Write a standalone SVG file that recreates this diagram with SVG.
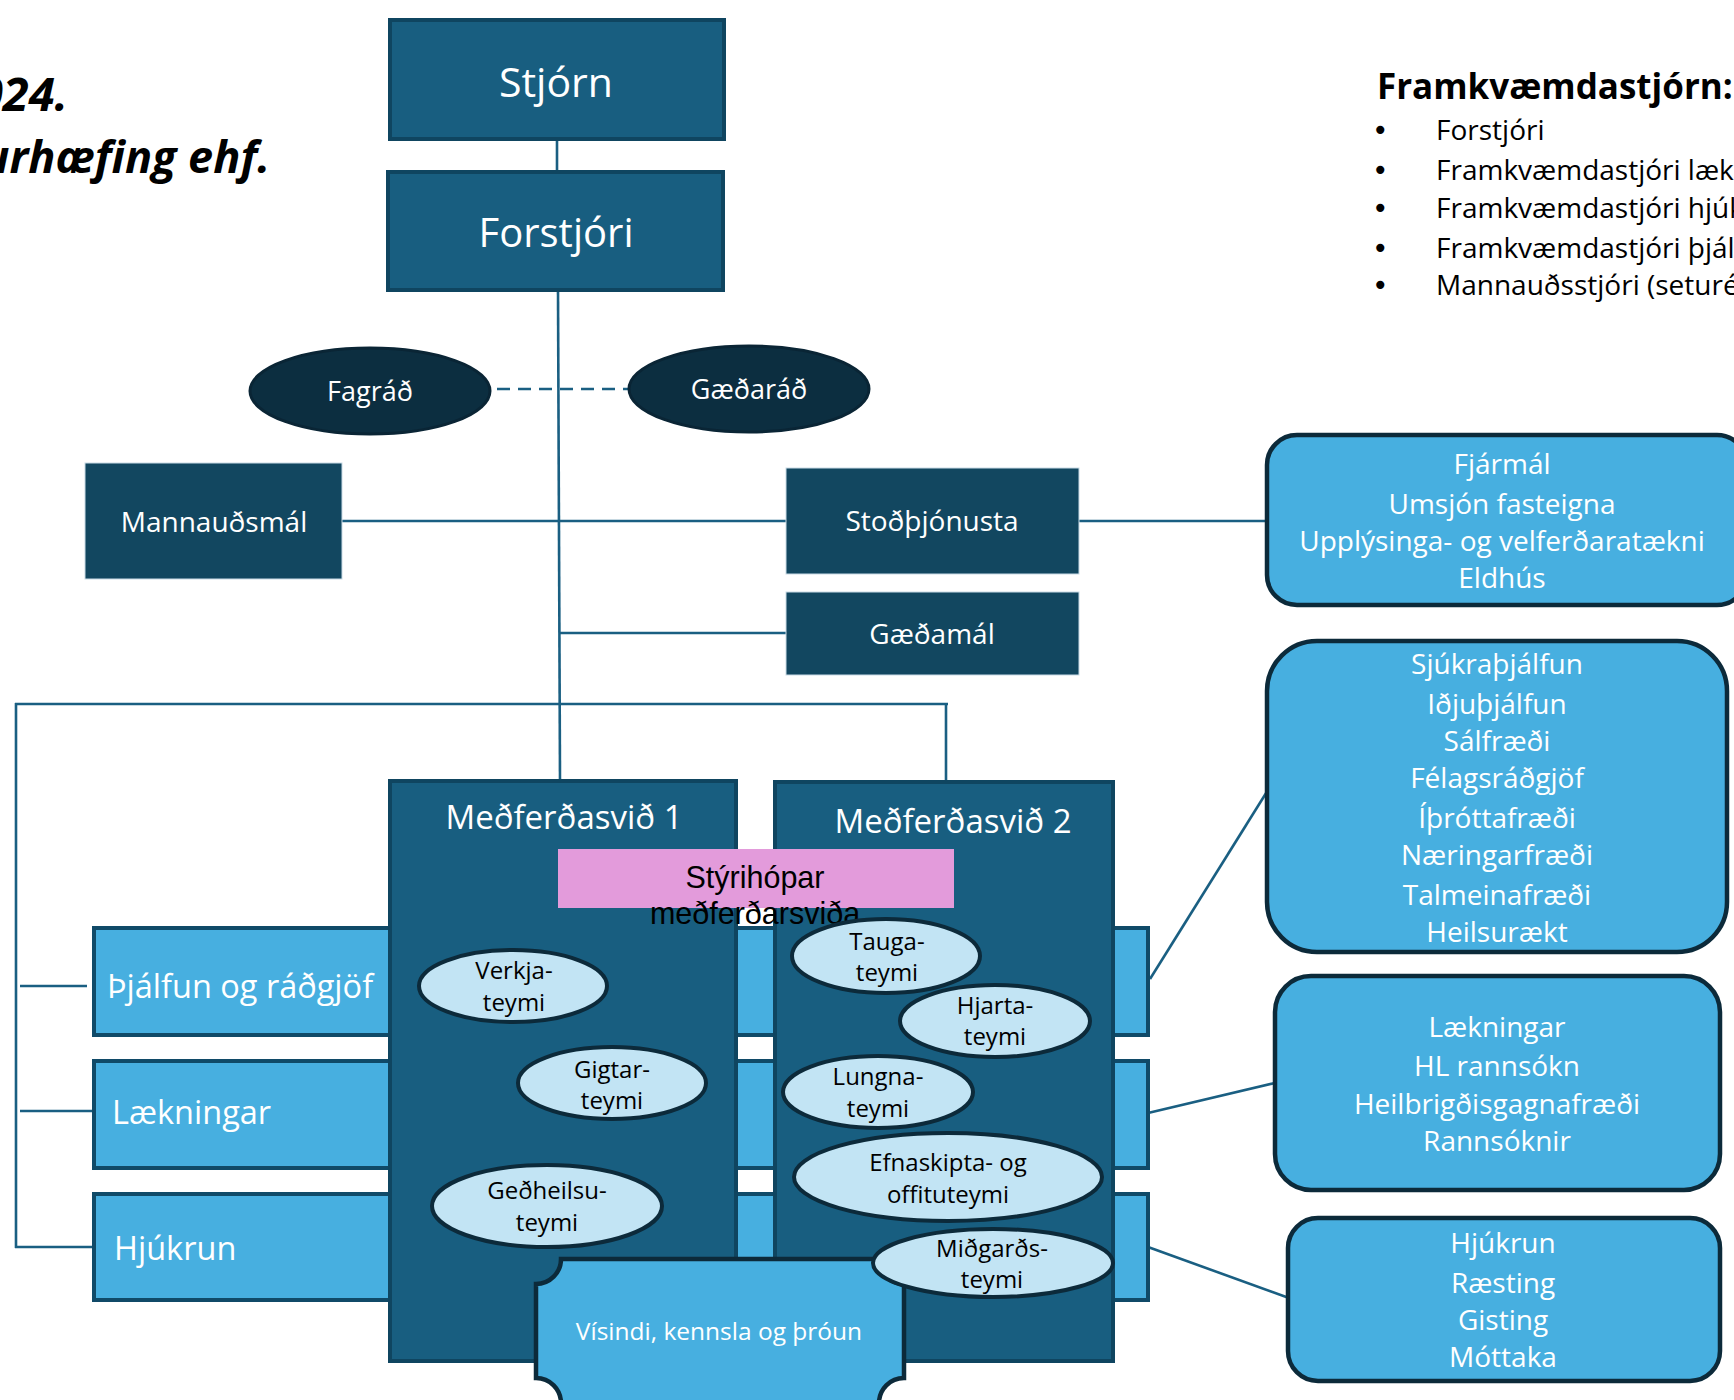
<svg xmlns="http://www.w3.org/2000/svg" width="1734" height="1400" viewBox="0 0 1734 1400">
<style>
.t{font-family:"Open Sans","Noto Sans","DejaVu Sans",sans-serif}
.w{fill:#ffffff}
.k{fill:#000000}
.c{text-anchor:middle}
.top{fill:#185e80;stroke:#0f4560;stroke-width:4}
.dk{fill:#124760;stroke:#c9dbe6;stroke-width:1}
.ov{fill:#0c2e40;stroke:#0a2535;stroke-width:3}
.row{fill:#47afe0;stroke:#104a68;stroke-width:4}
.med{fill:#185e80;stroke:#0f4560;stroke-width:4}
.rb{fill:#47afe0;stroke:#0c2a3a;stroke-width:4.5}
.tm{fill:#c2e4f4;stroke:#0c2a3a;stroke-width:4}
.ln{fill:none;stroke:#1a5f82;stroke-width:2.6}
.bl{font-family:"DejaVu Sans",sans-serif}
</style>

<g id="title">
<text class="t k" x="68" y="111" text-anchor="end" font-size="47" font-weight="bold" font-style="italic">024.</text>
<text class="t k" x="270" y="173" text-anchor="end" font-size="45" font-weight="bold" font-style="italic">urhæfing ehf.</text>
</g>

<g id="framkvaemdastjorn">
<text class="t k" x="1377" y="99" font-size="35" font-weight="bold">Framkvæmdastjórn:</text>
<g font-size="28">
<text class="t k" x="1372" y="140"><tspan class="bl">•</tspan><tspan x="1436">Forstjóri</tspan></text>
<text class="t k" x="1372" y="180"><tspan class="bl">•</tspan><tspan x="1436">Framkvæmdastjóri læk</tspan></text>
<text class="t k" x="1372" y="218"><tspan class="bl">•</tspan><tspan x="1436">Framkvæmdastjóri hjúk</tspan></text>
<text class="t k" x="1372" y="258"><tspan class="bl">•</tspan><tspan x="1436">Framkvæmdastjóri þjál</tspan></text>
<text class="t k" x="1372" y="295"><tspan class="bl">•</tspan><tspan x="1436">Mannauðsstjóri (seturé</tspan></text>
</g>
</g>

<g id="connectors">
<line class="ln" x1="557" y1="140" x2="557" y2="172"/>
<line class="ln" x1="558" y1="290" x2="560" y2="780"/>
<line class="ln" x1="342" y1="521" x2="786" y2="521"/>
<line class="ln" x1="1079" y1="521" x2="1268" y2="521"/>
<line class="ln" x1="560" y1="633" x2="786" y2="633"/>
<line class="ln" x1="15" y1="704" x2="948" y2="704"/>
<line class="ln" x1="946" y1="704" x2="946" y2="780"/>
<line class="ln" x1="16" y1="703" x2="16" y2="1248"/>
<line class="ln" x1="20" y1="986" x2="87" y2="986"/>
<line class="ln" x1="20" y1="1111" x2="93" y2="1111"/>
<line class="ln" x1="15" y1="1247" x2="93" y2="1247"/>
<line class="ln" x1="1150" y1="979" x2="1268" y2="790"/>
<line class="ln" x1="1148" y1="1113" x2="1275" y2="1083"/>
<line class="ln" x1="1148" y1="1247" x2="1289" y2="1298"/>
<line class="ln" x1="497" y1="389" x2="628" y2="389" stroke-dasharray="13 8"/>
</g>

<g id="stjorn">
<rect class="top" x="390" y="20" width="334" height="119"/>
<text class="t w c" x="556" y="97" font-size="41">Stjórn</text>
</g>
<g id="forstjori">
<rect class="top" x="388" y="172" width="335" height="118"/>
<text class="t w c" x="556" y="247" font-size="40">Forstjóri</text>
</g>
<g id="fagrad">
<ellipse class="ov" cx="370" cy="391" rx="120" ry="43"/>
<text class="t w c" x="370" y="401" font-size="27">Fagráð</text>
</g>
<g id="gaedarad">
<ellipse class="ov" cx="749" cy="389" rx="120" ry="43"/>
<text class="t w c" x="749" y="399" font-size="27">Gæðaráð</text>
</g>
<g id="mannaudsmal">
<rect class="dk" x="85" y="463" width="257" height="116"/>
<text class="t w c" x="214" y="532" font-size="28">Mannauðsmál</text>
</g>
<g id="stodthjonusta">
<rect class="dk" x="786" y="468" width="293" height="106"/>
<text class="t w c" x="932" y="531" font-size="28">Stoðþjónusta</text>
</g>
<g id="gaedamal">
<rect class="dk" x="786" y="592" width="293" height="83"/>
<text class="t w c" x="932" y="644" font-size="28">Gæðamál</text>
</g>

<g id="row-thjalfun">
<rect class="row" x="94" y="928" width="1054" height="107"/>
<text class="t w" x="107" y="998" font-size="32.5">Þjálfun og ráðgjöf</text>
</g>
<g id="row-laekningar">
<rect class="row" x="94" y="1061" width="1054" height="107"/>
<text class="t w" x="112" y="1124" font-size="32.5">Lækningar</text>
</g>
<g id="row-hjukrun">
<rect class="row" x="94" y="1194" width="1054" height="106"/>
<text class="t w" x="114" y="1260" font-size="32.5">Hjúkrun</text>
</g>

<g id="medferdasvid1">
<rect class="med" x="390" y="781" width="346" height="580"/>
<text class="t w c" x="564" y="829" font-size="33">Meðferðasvið 1</text>
</g>
<g id="medferdasvid2">
<rect class="med" x="775" y="782" width="338" height="579"/>
<text class="t w c" x="953" y="833" font-size="33">Meðferðasvið 2</text>
</g>

<g id="styrihopar">
<rect x="558" y="849" width="396" height="59" fill="#e39bdb"/>
<text x="755" y="888" font-family="'Liberation Sans',Arial,sans-serif" font-size="30.5" fill="#000" text-anchor="middle">Stýrihópar</text>
<text x="755" y="924" font-family="'Liberation Sans',Arial,sans-serif" font-size="30.5" fill="#000" text-anchor="middle">meðferðarsviða</text>
</g>

<g id="verkjateymi">
<ellipse class="tm" cx="513" cy="986" rx="94" ry="36"/>
<text class="t k c" x="514" y="979" font-size="24">Verkja-</text>
<text class="t k c" x="514" y="1011" font-size="24">teymi</text>
</g>
<g id="gigtarteymi">
<ellipse class="tm" cx="612" cy="1083" rx="94" ry="36"/>
<text class="t k c" x="612" y="1078" font-size="24">Gigtar-</text>
<text class="t k c" x="612" y="1109" font-size="24">teymi</text>
</g>
<g id="gedheilsuteymi">
<ellipse class="tm" cx="547" cy="1206" rx="115" ry="41"/>
<text class="t k c" x="547" y="1199" font-size="24">Geðheilsu-</text>
<text class="t k c" x="547" y="1231" font-size="24">teymi</text>
</g>
<g id="taugateymi">
<ellipse class="tm" cx="886" cy="956" rx="94" ry="37"/>
<text class="t k c" x="887" y="950" font-size="24">Tauga-</text>
<text class="t k c" x="887" y="981" font-size="24">teymi</text>
</g>
<g id="hjartateymi">
<ellipse class="tm" cx="995" cy="1021" rx="95" ry="36"/>
<text class="t k c" x="995" y="1014" font-size="24">Hjarta-</text>
<text class="t k c" x="995" y="1045" font-size="24">teymi</text>
</g>
<g id="lungnateymi">
<ellipse class="tm" cx="878" cy="1092" rx="95" ry="36"/>
<text class="t k c" x="878" y="1085" font-size="24">Lungna-</text>
<text class="t k c" x="878" y="1117" font-size="24">teymi</text>
</g>
<g id="efnaskiptateymi">
<ellipse class="tm" cx="948" cy="1177" rx="154" ry="44"/>
<text class="t k c" x="948" y="1171" font-size="24">Efnaskipta- og</text>
<text class="t k c" x="948" y="1203" font-size="24">offituteymi</text>
</g>

<g id="visindi">
<path d="M561,1259 L879,1259 A25,25 0 0 0 904,1284 L904,1378 A25,25 0 0 0 879,1403 L561,1403 A25,25 0 0 0 536,1378 L536,1284 A25,25 0 0 0 561,1259 Z" fill="#47afe0" stroke="#0c2a3a" stroke-width="4.5"/>
<text class="t w c" x="719" y="1340" font-size="24.5">Vísindi, kennsla og þróun</text>
</g>

<g id="midgardsteymi">
<ellipse class="tm" cx="993" cy="1263" rx="120" ry="34"/>
<text class="t k c" x="992" y="1257" font-size="24">Miðgarðs-</text>
<text class="t k c" x="992" y="1288" font-size="24">teymi</text>
</g>

<g id="box-stodthjonusta">
<rect class="rb" x="1267" y="435" width="480" height="170" rx="30"/>
<g font-size="28">
<text class="t w c" x="1502" y="474">Fjármál</text>
<text class="t w c" x="1502" y="514">Umsjón fasteigna</text>
<text class="t w c" x="1502" y="551">Upplýsinga- og velferðaratækni</text>
<text class="t w c" x="1502" y="588">Eldhús</text>
</g>
</g>
<g id="box-thjalfun">
<rect class="rb" x="1267" y="641" width="460" height="311" rx="50"/>
<g font-size="28">
<text class="t w c" x="1497" y="674">Sjúkraþjálfun</text>
<text class="t w c" x="1497" y="714">Iðjuþjálfun</text>
<text class="t w c" x="1497" y="751">Sálfræði</text>
<text class="t w c" x="1497" y="788">Félagsráðgjöf</text>
<text class="t w c" x="1497" y="828">Íþróttafræði</text>
<text class="t w c" x="1497" y="865">Næringarfræði</text>
<text class="t w c" x="1497" y="905">Talmeinafræði</text>
<text class="t w c" x="1497" y="942">Heilsurækt</text>
</g>
</g>
<g id="box-laekningar">
<rect class="rb" x="1275" y="976" width="445" height="214" rx="36"/>
<g font-size="28">
<text class="t w c" x="1497" y="1037">Lækningar</text>
<text class="t w c" x="1497" y="1076">HL rannsókn</text>
<text class="t w c" x="1497" y="1114">Heilbrigðisgagnafræði</text>
<text class="t w c" x="1497" y="1151">Rannsóknir</text>
</g>
</g>
<g id="box-hjukrun">
<rect class="rb" x="1288" y="1218" width="432" height="163" rx="30"/>
<g font-size="28">
<text class="t w c" x="1503" y="1253">Hjúkrun</text>
<text class="t w c" x="1503" y="1293">Ræsting</text>
<text class="t w c" x="1503" y="1330">Gisting</text>
<text class="t w c" x="1503" y="1367">Móttaka</text>
</g>
</g>
</svg>
